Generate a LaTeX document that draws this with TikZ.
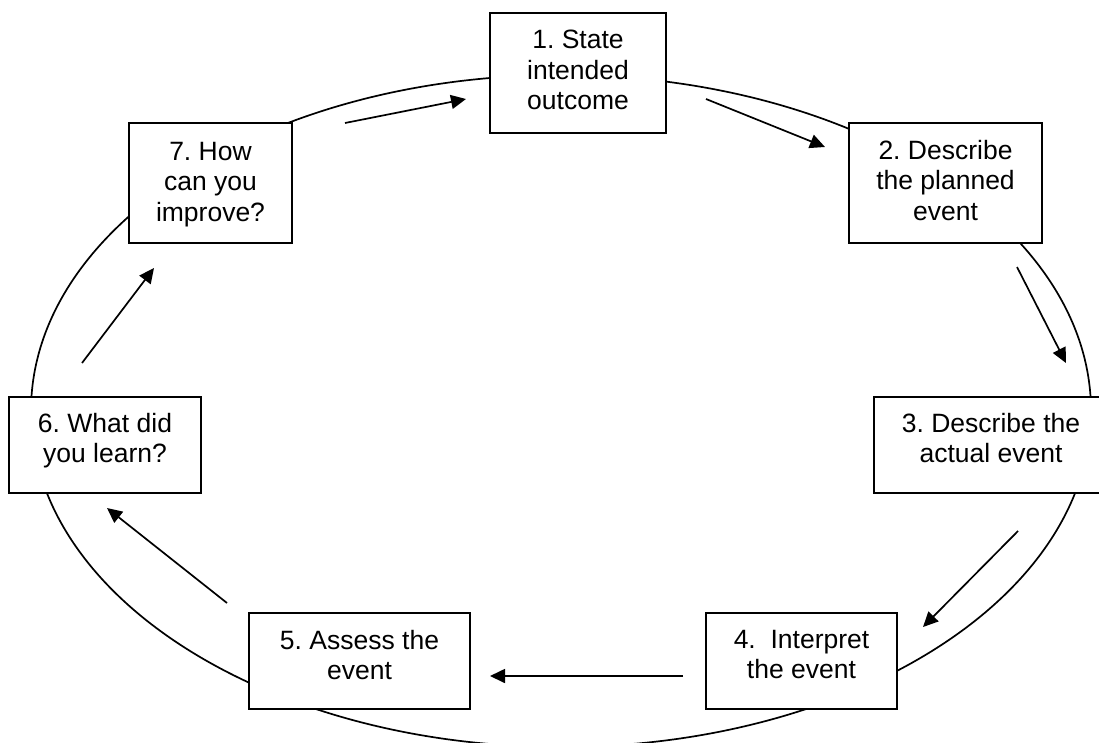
\documentclass[tikz,border=0pt]{standalone}
\usepackage{fontspec}
\setmainfont{Liberation Sans}
\usetikzlibrary{arrows.meta}
\frenchspacing
\tikzset{
  stagebox/.style={draw, line width=1.9pt, fill=white, inner sep=0pt, outer sep=0pt},
  stagetext/.style={anchor=north, align=center, inner sep=0pt, font=\fontsize{26.5}{30.4}\selectfont},
  flow/.style={line width=1.7pt, -{Triangle[length=15pt,width=14pt]}},
  ring/.style={line width=1.7pt}
}
\begin{document}
\begin{tikzpicture}[x=1pt,y=-1pt]
  % page frame
  \clip (0,0) rectangle (1099,742);
  \fill[white] (0,0) rectangle (1099,742);

  % the cycle ring behind the stages
  \draw[ring] (561,411) ellipse [x radius=530pt, y radius=336pt];

  % stages
  \node[stagebox, minimum width=176pt, minimum height=120pt] (b1) at (578,73) {};
  \node[stagetext] (t1) at ([yshift=-17pt]b1.north) {1. State\\intended\\outcome};

  \node[stagebox, minimum width=193pt, minimum height=120pt] (b2) at (945.5,183) {};
  \node[stagetext] (t2) at ([yshift=-17pt]b2.north) {2. Describe\\the planned\\event};

  \node[stagebox, minimum width=234pt, minimum height=96pt] (b3) at (991,445) {};
  \node[stagetext] (t3) at ([yshift=-16pt]b3.north) {3. Describe the\\actual event};

  \node[stagebox, minimum width=191pt, minimum height=96pt] (b4) at (801.5,661) {};
  \node[stagetext] (t4) at ([yshift=-17pt]b4.north) {4.\ \ Interpret\\the event};

  \node[stagebox, minimum width=221pt, minimum height=96pt] (b5) at (359.5,661) {};
  \node[stagetext] (t5) at ([yshift=-17pt]b5.north) {5. Assess the\\event};

  \node[stagebox, minimum width=192pt, minimum height=96pt] (b6) at (105,445) {};
  \node[stagetext] (t6) at ([yshift=-16pt]b6.north) {6. What did\\you learn?};

  \node[stagebox, minimum width=163pt, minimum height=120pt] (b7) at (210.5,183) {};
  \node[stagetext] (t7) at ([yshift=-19pt]b7.north) {7. How\\can you\\improve?};

  % arrow end points along the inside of the ring
  \coordinate (a71s) at (345,123);  \coordinate (a71e) at (466,99);
  \coordinate (a12s) at (706,99);   \coordinate (a12e) at (825,147);
  \coordinate (a23s) at (1017,267); \coordinate (a23e) at (1066,363);
  \coordinate (a34s) at (1018,531); \coordinate (a34e) at (923,627);
  \coordinate (a45s) at (683,676);  \coordinate (a45e) at (490,676);
  \coordinate (a56s) at (227,603);  \coordinate (a56e) at (107,508);
  \coordinate (a67s) at (82,363);   \coordinate (a67e) at (154,268);

  \draw[flow] (a71s) -- (a71e);
  \draw[flow] (a12s) -- (a12e);
  \draw[flow] (a23s) -- (a23e);
  \draw[flow] (a34s) -- (a34e);
  \draw[flow] (a45s) -- (a45e);
  \draw[flow] (a56s) -- (a56e);
  \draw[flow] (a67s) -- (a67e);
\end{tikzpicture}
\end{document}
